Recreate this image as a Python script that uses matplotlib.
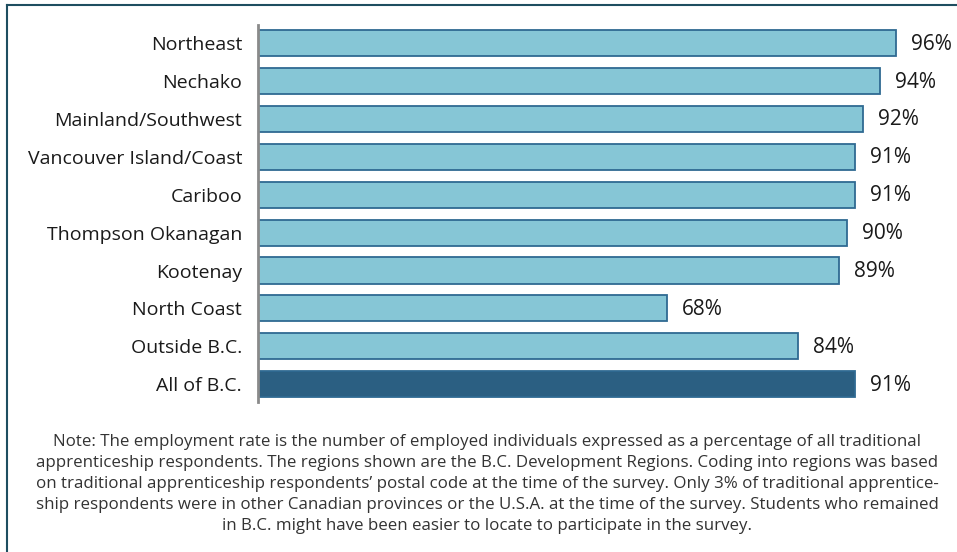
import matplotlib
matplotlib.use("Agg")
import matplotlib.pyplot as plt
from matplotlib.lines import Line2D

plt.rcParams['font.family'] = ['Open Sans', 'DejaVu Sans']

regions = ["Northeast", "Nechako", "Mainland/Southwest", "Vancouver Island/Coast",
           "Cariboo", "Thompson Okanagan", "Kootenay", "North Coast",
           "Outside B.C.", "All of B.C."]
employment_rate = [96, 94, 92, 91, 91, 90, 89, 68, 84, 91]
value_labels = ["96%", "94%", "92%", "91%", "91%", "90%", "89%", "68%", "84%", "91%"]

note = ("Note: The employment rate is the number of employed individuals expressed as a percentage of all traditional\n"
        "apprenticeship respondents. The regions shown are the B.C. Development Regions. Coding into regions was based\n"
        "on traditional apprenticeship respondents\u2019 postal code at the time of the survey. Only 3% of traditional apprentice-\n"
        "ship respondents were in other Canadian provinces or the U.S.A. at the time of the survey. Students who remained\n"
        "in B.C. might have been easier to locate to participate in the survey.")

W, H = 957, 552
fig = plt.figure(figsize=(W / 100, H / 100), dpi=100)

ax_left, ax_top, ax_bottom = 258 / W, 1 - 25 / H, 1 - 402 / H
ax = fig.add_axes([ax_left, ax_bottom, 1 - ax_left, ax_top - ax_bottom])

light = "#86C6D6"
dark = "#2B5F82"
edge = "#2F6A92"
colors = [light] * (len(regions) - 1) + [dark]

y = list(range(len(regions)))
ax.barh(y, employment_rate, height=0.69, color=colors, edgecolor=edge, linewidth=1.3, zorder=2)

ax.set_xlim(18.2, 103.4)
ax.set_ylim(9.47, -0.48)

for yi, v, lab in zip(y, employment_rate, value_labels):
    ax.annotate(lab, xy=(v, yi), xytext=(15, -1), textcoords="offset pixels",
                ha="left", va="center", fontsize=15, color="#1a1a1a", clip_on=False)

ax.set_yticks(y)
ax.set_yticklabels(regions, fontsize=14, color="#1a1a1a")
ax.tick_params(axis="y", length=0, pad=11.5)
ax.set_xticks([])
for s in ["top", "right", "bottom"]:
    ax.spines[s].set_visible(False)
ax.spines["left"].set_color("#8a8a8a")
ax.spines["left"].set_linewidth(2)

fig.text(487 / W, 1 - 434 / H, note, ha="center", va="top", multialignment="center",
         fontsize=12.2, color="#333333", linespacing=1.42)

# Frame along top and left edges
frame_color = "#1E4E60"
fig.add_artist(Line2D([7 / W, 1], [1 - 5 / H, 1 - 5 / H], color=frame_color, lw=1.5,
                      transform=fig.transFigure))
fig.add_artist(Line2D([7 / W, 7 / W], [1 - 5 / H, 0], color=frame_color, lw=1.5,
                      transform=fig.transFigure))

fig.savefig("out.png", dpi=100, facecolor="white")
